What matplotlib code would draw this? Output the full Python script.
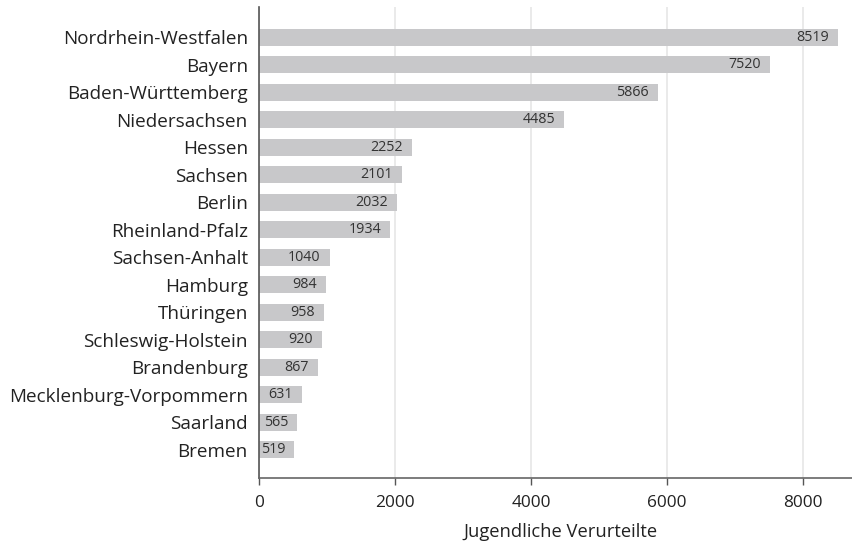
import matplotlib.pyplot as plt

plt.rcParams['font.family'] = ['Open Sans', 'DejaVu Sans']

laender = ['Nordrhein-Westfalen', 'Bayern', 'Baden-Württemberg', 'Niedersachsen',
           'Hessen', 'Sachsen', 'Berlin', 'Rheinland-Pfalz', 'Sachsen-Anhalt',
           'Hamburg', 'Thüringen', 'Schleswig-Holstein', 'Brandenburg',
           'Mecklenburg-Vorpommern', 'Saarland', 'Bremen']
verurteilte = [8519, 7520, 5866, 4485, 2252, 2101, 2032, 1934, 1040,
               984, 958, 920, 867, 631, 565, 519]
xticks = [0, 2000, 4000, 6000, 8000]

fig = plt.figure(figsize=(8.53, 5.44), dpi=100)
ax = fig.add_axes([0.3036, 0.1213, 0.6964, 0.8657])

pos = list(range(len(laender)))
ax.barh(pos, verurteilte, height=0.62, color='#c8c8ca', zorder=2)

# Wert rechtsbuendig ans Balkenende
for y, v in zip(pos, verurteilte):
    ax.annotate(str(v), (v, y), xytext=(-6.5, 0), textcoords='offset points',
                ha='right', va='center', fontsize=10.3, color='#333333', zorder=3)

ax.set_yticks(pos)
ax.set_yticklabels(laender, fontsize=13.6, color='#222222')
ax.set_ylim(len(laender) - 1 + 1.02, -1.09)
ax.set_xlim(0, 8735)
ax.set_xticks(xticks)
ax.set_xticklabels([str(t) for t in xticks], fontsize=12.4, color='#222222')

ax.tick_params(axis='y', length=0, pad=8)
ax.tick_params(axis='x', length=5, width=1, color='#555555', pad=7)
ax.xaxis.grid(True, color='#e6e6e6', linewidth=1.2, zorder=0)
ax.set_axisbelow(True)

for s in ['top', 'right']:
    ax.spines[s].set_visible(False)
ax.spines['left'].set_color('#555555')
ax.spines['left'].set_linewidth(1.2)
ax.spines['bottom'].set_color('#666666')
ax.spines['bottom'].set_linewidth(1.2)

ax.set_xlabel('Jugendliche Verurteilte', fontsize=13.2, color='#222222')
ax.xaxis.set_label_coords(0.507, -0.095)

fig.savefig('out.png', dpi=100)
